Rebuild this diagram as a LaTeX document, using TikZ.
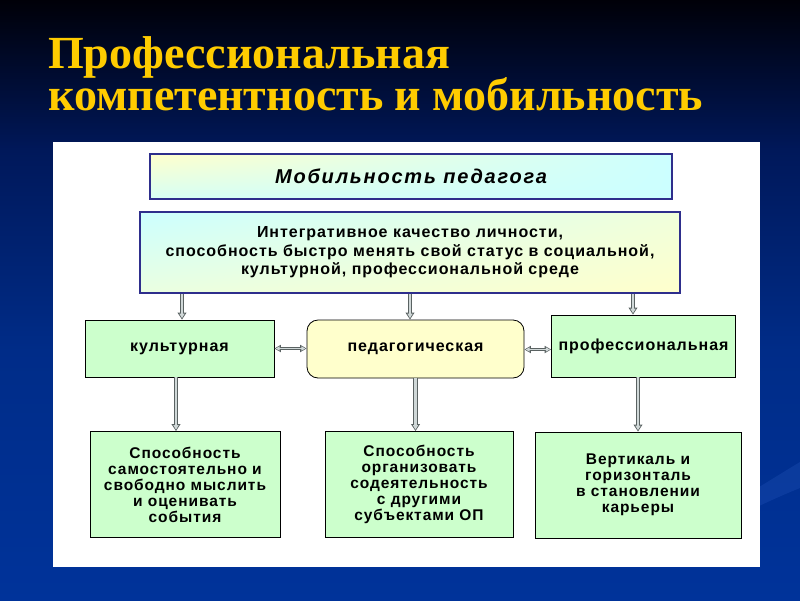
\documentclass[tikz,border=0pt]{standalone}
\usepackage{fontspec}
\setmainfont{Liberation Serif}
\setsansfont{Liberation Sans}
\newfontfamily\boxfont[LetterSpace=6]{Liberation Sans}
\newfontfamily\headfont[LetterSpace=9]{Liberation Sans}
\usetikzlibrary{arrows.meta,shadings}
\definecolor{titleyellow}{HTML}{FFCC00}
\definecolor{navyborder}{HTML}{2E2E8C}
\definecolor{paleyellow}{HTML}{FFFFCC}
\definecolor{palecyan}{HTML}{CCFFFF}
\definecolor{palegreen}{HTML}{CCFFCC}
\definecolor{arrowdark}{HTML}{5A6262}
\definecolor{arrowlight}{HTML}{D0D8D8}
\definecolor{bgtop}{HTML}{000008}
\definecolor{bgmid}{HTML}{00185A}
\definecolor{bglow}{HTML}{002C88}
\definecolor{bgbottom}{HTML}{00339A}
\definecolor{swoosh}{HTML}{3366CC}
\tikzset{
  titletext/.style={font=\fontsize{46}{50}\selectfont\bfseries, text=titleyellow, anchor=base west, inner sep=0pt},
  headbox/.style={draw=navyborder, line width=2pt, minimum width=522pt, minimum height=45pt, inner sep=0pt, shade,
     upper left=paleyellow, upper right=palecyan, lower left=palecyan!80!paleyellow, lower right=palecyan},
  bigbox/.style={draw=navyborder, line width=2pt, minimum width=540pt, minimum height=81pt, inner sep=0pt, align=center, shade,
     upper left=palecyan, upper right=paleyellow!70!palecyan, lower left=paleyellow!60!palecyan, lower right=paleyellow},
  greenbox/.style={draw=black, line width=0.8pt, fill=palegreen, inner sep=0pt, align=center},
  pedbox/.style={draw=black, line width=0.8pt, fill=paleyellow, rounded corners=11pt, inner sep=0pt, align=center},
  boxtext/.style={font=\boxfont\bfseries\fontsize{16}{18.5}\selectfont},
  lowtext/.style={font=\boxfont\bfseries\fontsize{15.5}{16}\selectfont},
  dblarrow/.style={line width=2.2pt, draw=arrowlight, shorten >=1.4pt, -{Triangle[length=4.5pt,width=5pt]},
     preaction={draw=arrowdark, line width=4.4pt, shorten >=0pt, -{Triangle[length=7pt,width=8.5pt]}}},
  twoarrow/.style={line width=1.6pt, draw=arrowlight, shorten >=1.2pt, shorten <=1.2pt,
     {Triangle[length=4pt,width=4pt]}-{Triangle[length=4pt,width=4pt]},
     preaction={draw=arrowdark, line width=3.6pt, shorten >=0pt, shorten <=0pt,
     {Triangle[length=6.5pt,width=7pt]}-{Triangle[length=6.5pt,width=7pt]}}}
}
\begin{document}
\begin{tikzpicture}[x=1pt,y=-1pt]
\useasboundingbox (0,0) rectangle (800,600);
% background
\shade[top color=bgtop, bottom color=bgmid] (0,0) rectangle (800,150.5);
\shade[top color=bgmid, bottom color=bglow] (0,150) rectangle (800,350.5);
\shade[top color=bglow, bottom color=bgbottom] (0,350) rectangle (800,600);
\fill[swoosh, opacity=0.22] (700,520) .. controls (740,500) and (770,480) .. (800,462) -- (800,488) .. controls (770,500) and (740,515) .. (700,535) -- cycle;
\fill[white] (53,142) rectangle (760,567);
% title
\node[titletext] (t1) at (48,68) {Профессиональная};
\node[titletext] (t2) at (48,110) {компетентность и мобильность};
% boxes
\node[headbox] (head) at (411,176.5) {\headfont\bfseries\itshape\fontsize{20}{22}\selectfont Мобильность педагога};
\node[bigbox, boxtext] (big) at (410,252.5) {Интегративное качество личности,\\способность быстро менять свой статус в социальной,\\культурной, профессиональной среде};
\node[greenbox, boxtext, minimum width=189pt, minimum height=57pt] (cult) at (179.5,348.5) {культурная};
\node[pedbox, boxtext, minimum width=217pt, minimum height=58pt] (ped) at (415.5,349) {педагогическая};
\node[greenbox, boxtext, minimum width=184pt, minimum height=62pt] (prof) at (643.5,346) {профессиональная};
\node[greenbox, lowtext, minimum width=190pt, minimum height=106pt] (b1) at (185,484.5) {Способность\\самостоятельно и\\свободно мыслить\\и оценивать\\события};
\node[greenbox, lowtext, minimum width=188pt, minimum height=106pt] (b2) at (419,484.5) {Способность\\организовать\\содеятельность\\с другими\\субъектами ОП};
\node[greenbox, lowtext, minimum width=206pt, minimum height=106pt] (b3) at (638,485) {Вертикаль и\\горизонталь\\в становлении\\карьеры};
% arrows
\draw[dblarrow] ([xshift=2.5pt]cult.north |- big.south) -- ([xshift=2.5pt]cult.north);
\draw[dblarrow] ([xshift=-5.5pt]ped.north |- big.south) -- ([xshift=-5.5pt]ped.north);
\draw[dblarrow] ([xshift=-10.5pt]prof.north |- big.south) -- ([xshift=-10.5pt]prof.north);
\draw[dblarrow] ([xshift=-3.5pt]cult.south) -- ([xshift=-3.5pt]cult.south |- b1.north);
\draw[dblarrow] (ped.south) -- (ped.south |- b2.north);
\draw[dblarrow] ([xshift=-5.5pt]prof.south) -- ([xshift=-5.5pt]prof.south |- b3.north);
\draw[twoarrow] (cult.east) -- (cult.east -| ped.west);
\draw[twoarrow] ([yshift=-0.5pt]ped.east) -- ([yshift=-0.5pt]ped.east -| prof.west);
\end{tikzpicture}
\end{document}
